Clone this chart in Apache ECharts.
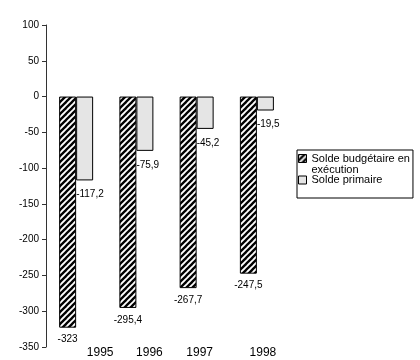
<!DOCTYPE html>
<html><head><meta charset="utf-8">
<script src="https://cdn.jsdelivr.net/npm/echarts@6/dist/echarts.min.js"></script>
<style>html,body{margin:0;padding:0;background:#fff}#c{width:420px;height:360px}</style>
</head><body><div id="c"></div>
<script>
const categories = ['1995', '1996', '1997', '1998'];
const soldeBudgetaire = [-323, -295.4, -267.7, -247.5];
const soldePrimaire = [-117.2, -75.9, -45.2, -19.5];
const seriesNames = ['Solde budgétaire en exécution', 'Solde primaire'];
const yMin = -350, yMax = 100, yStep = 50;

function hatch() {
  const s = 6;
  const c = document.createElement('canvas');
  c.width = s; c.height = s;
  const g = c.getContext('2d');
  g.fillStyle = '#fff'; g.fillRect(0, 0, s, s);
  g.strokeStyle = '#000'; g.lineWidth = 2.3;
  for (const o of [-s, 0, s]) {
    g.beginPath(); g.moveTo(o - 1, s + 1); g.lineTo(o + s + 1, -1); g.stroke();
  }
  return c;
}
const fmt = v => String(v).replace('.', ',');
const xShift = [48, 26, 6, 12];
const rich = {};
xShift.forEach((p, i) => { rich['p' + i] = { padding: [0, 0, 0, p], fontSize: 12, color: '#000', fontFamily: 'Liberation Sans' }; });

const chart = echarts.init(document.getElementById('c'), null, { renderer: 'canvas' });
chart.setOption({
  animation: false,
  textStyle: { fontFamily: 'Liberation Sans' },
  grid: { left: 46, top: 25, width: 241, bottom: 13, containLabel: false },
  legend: {
    orient: 'vertical', left: 297, top: 150,
    padding: [3, 3, 8, 1],
    borderColor: '#000', borderWidth: 1,
    itemWidth: 8, itemHeight: 19, itemGap: -5,
    itemStyle: { borderColor: '#000', borderWidth: 1 },
    textStyle: { fontSize: 11, color: '#000', lineHeight: 11, fontFamily: 'Liberation Sans' },
    formatter: n => n === seriesNames[0] ? 'Solde budgétaire en\nexécution' : n,
    data: [
      { name: seriesNames[0], icon: 'path://M0,0L8,0L8,8L0,8Z M0,19' },
      { name: seriesNames[1], icon: 'path://M0,0 M0,5.5L8,5.5L8,13.5L0,13.5Z M0,19' }
    ]
  },
  xAxis: {
    type: 'category', data: categories,
    axisLine: { show: false, onZero: false }, axisTick: { show: false },
    axisLabel: { margin: 0, interval: 0, formatter: (v, i) => '{p' + i + '|' + v + '}', rich: rich }
  },
  yAxis: {
    type: 'value', min: yMin, max: yMax, interval: yStep,
    axisLine: { show: true, lineStyle: { color: '#333', width: 1 } },
    axisTick: { show: true, length: 4, lineStyle: { color: '#333' } },
    splitLine: { show: false },
    axisLabel: { color: '#000', fontSize: 10, margin: 7, fontFamily: 'Liberation Sans' }
  },
  series: [
    {
      name: seriesNames[0], type: 'bar', data: soldeBudgetaire,
      barWidth: 17, barGap: '0%',
      itemStyle: { color: { image: hatch(), repeat: 'repeat' }, borderColor: '#000', borderWidth: 1 },
      label: { show: true, position: 'bottom', distance: 7, color: '#000', fontSize: 10, formatter: p => fmt(p.value), fontFamily: 'Liberation Sans' }
    },
    {
      name: seriesNames[1], type: 'bar', data: soldePrimaire,
      barWidth: 17, barGap: '0%',
      itemStyle: { color: '#e5e5e5', borderColor: '#000', borderWidth: 1 },
      label: { show: true, position: [0, '100%'], offset: [0, 14], align: 'left', verticalAlign: 'middle', color: '#000', fontSize: 10, formatter: p => fmt(p.value), fontFamily: 'Liberation Sans' }
    }
  ]
});
</script></body></html>
